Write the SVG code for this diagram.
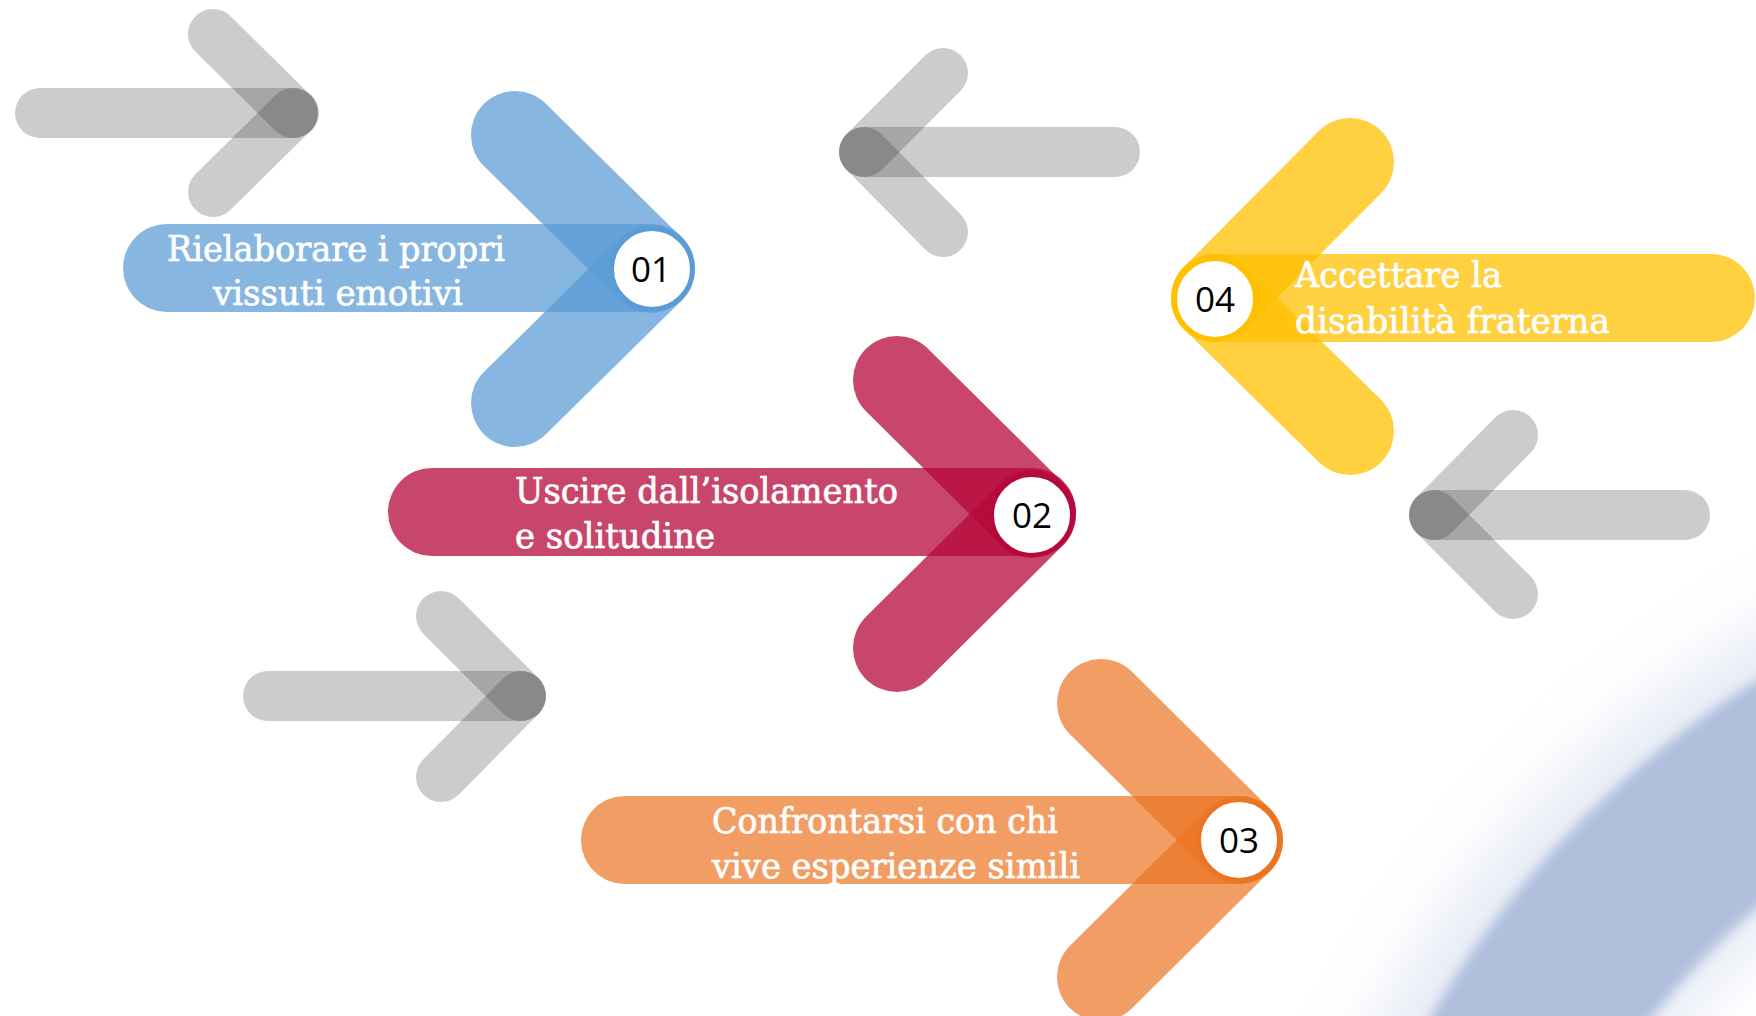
<svg xmlns="http://www.w3.org/2000/svg" width="1756" height="1016" viewBox="0 0 1756 1016">
<defs>
<style>
.g{fill:none;stroke:#373737;stroke-opacity:.255;stroke-width:50;stroke-linecap:round}
.c{fill:none;stroke-width:88;stroke-linecap:round}
.blue{stroke:#5B9BD5;stroke-opacity:.73}
.mag{stroke:#B6083B;stroke-opacity:.75}
.ora{stroke:#EB7422;stroke-opacity:.7}
.yel{stroke:#FFC000;stroke-opacity:.75}
.lbl{font-family:"DejaVu Serif","Liberation Serif",serif;font-size:36px;fill:#FFFFFF;stroke:#FFFFFF;stroke-width:0.7}
.num{font-family:"Open Sans","Liberation Sans",sans-serif;font-size:35px;fill:#000000;text-anchor:middle}
.disc{fill:#FFFFFF;stroke-width:4}
</style>
<filter id="soft" x="-20%" y="-20%" width="140%" height="140%"><feGaussianBlur stdDeviation="6"/></filter>
<filter id="glow" x="-20%" y="-20%" width="140%" height="140%"><feGaussianBlur stdDeviation="30"/></filter>
</defs>
<rect width="1756" height="1016" fill="#FFFFFF"/>
<g id="background-arc">
<circle cx="2265" cy="1500" r="880" fill="none" stroke="#C9D3E8" stroke-opacity=".45" stroke-width="260" filter="url(#glow)"/>
<circle cx="2265" cy="1500" r="872" fill="none" stroke="#AFBFDC" stroke-width="184" filter="url(#soft)"/>
</g>
<g id="gray-arrow-1">
<line class="g" x1="40" y1="113" x2="294" y2="113"/>
<line class="g" x1="213" y1="34" x2="293" y2="113"/>
<line class="g" x1="293" y1="113" x2="213" y2="192"/>
</g>
<g id="gray-arrow-2">
<line class="g" x1="1115" y1="152" x2="864" y2="152"/>
<line class="g" x1="943" y1="73" x2="864" y2="152"/>
<line class="g" x1="864" y1="152" x2="943" y2="232"/>
</g>
<g id="gray-arrow-3">
<line class="g" x1="1685" y1="515" x2="1434" y2="515"/>
<line class="g" x1="1513" y1="435" x2="1434" y2="515"/>
<line class="g" x1="1434" y1="515" x2="1513" y2="594"/>
</g>
<g id="gray-arrow-4">
<line class="g" x1="268" y1="696" x2="521" y2="696"/>
<line class="g" x1="441" y1="616" x2="521" y2="696"/>
<line class="g" x1="521" y1="696" x2="441" y2="777"/>
</g>
<g id="step-01">
<line class="c blue" x1="167" y1="268" x2="651" y2="268"/>
<line class="c blue" x1="515" y1="135" x2="651" y2="269"/>
<line class="c blue" x1="651" y1="269" x2="515" y2="403"/>
<circle class="disc" cx="652" cy="269" r="40" stroke="#5B9BD5"/>
<text class="num" x="651" y="282">01</text>
<text class="lbl" x="167" y="261" textLength="338" lengthAdjust="spacingAndGlyphs">Rielaborare i propri</text>
<text class="lbl" x="213" y="305" textLength="250" lengthAdjust="spacingAndGlyphs">vissuti emotivi</text>
</g>
<g id="step-02">
<line class="c mag" x1="432" y1="512" x2="1032" y2="512"/>
<line class="c mag" x1="897" y1="380" x2="1032" y2="514"/>
<line class="c mag" x1="1032" y1="514" x2="897" y2="648"/>
<circle class="disc" cx="1032" cy="515" r="40" stroke="#B6083B"/>
<text class="num" x="1032" y="528">02</text>
<text class="lbl" x="515" y="503" textLength="383" lengthAdjust="spacingAndGlyphs">Uscire dall’isolamento</text>
<text class="lbl" x="515" y="548" textLength="200" lengthAdjust="spacingAndGlyphs">e solitudine</text>
</g>
<g id="step-03">
<line class="c ora" x1="625" y1="840" x2="1239" y2="840"/>
<line class="c ora" x1="1101" y1="703" x2="1239" y2="840"/>
<line class="c ora" x1="1239" y1="840" x2="1101" y2="977"/>
<circle class="disc" cx="1239" cy="840" r="40" stroke="#EB7422"/>
<text class="num" x="1239" y="853">03</text>
<text class="lbl" x="712" y="833" textLength="346" lengthAdjust="spacingAndGlyphs">Confrontarsi con chi</text>
<text class="lbl" x="712" y="878" textLength="368" lengthAdjust="spacingAndGlyphs">vive esperienze simili</text>
</g>
<g id="step-04">
<line class="c yel" x1="1711" y1="298" x2="1215" y2="298"/>
<line class="c yel" x1="1350" y1="162" x2="1215" y2="298"/>
<line class="c yel" x1="1215" y1="298" x2="1350" y2="431"/>
<circle class="disc" cx="1215" cy="299" r="40" stroke="#FFC000"/>
<text class="num" x="1215" y="312">04</text>
<text class="lbl" x="1295" y="287" textLength="207" lengthAdjust="spacingAndGlyphs">Accettare la</text>
<text class="lbl" x="1295" y="333" textLength="315" lengthAdjust="spacingAndGlyphs">disabilità fraterna</text>
</g>
</svg>
